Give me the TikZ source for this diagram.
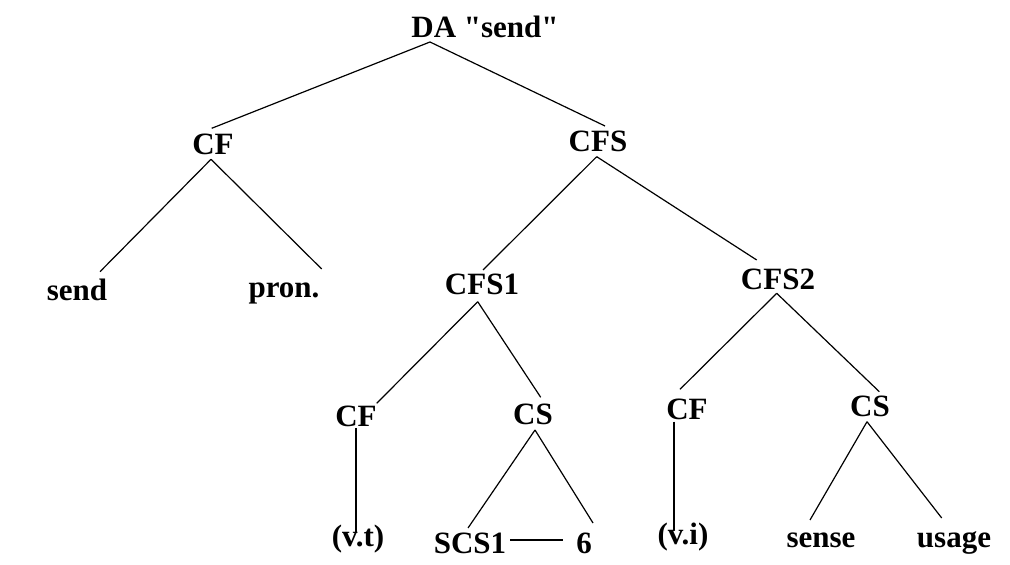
\documentclass[tikz,border=0pt]{standalone}
\usepackage{fontspec}
\setmainfont{Liberation Serif}[Ligatures=TeXOff]
\usetikzlibrary{calc}
\begin{document}
\begin{tikzpicture}[x=0.5pt,y=-0.5pt,
  lbl/.style={inner sep=0pt,anchor=base,font=\bfseries\fontsize{15.5}{18}\selectfont},
  branch/.style={draw=black,line width=0.6pt}]
\useasboundingbox (0,0) rectangle (1010,565);

% labels, placed on their baselines
\node[lbl] (da)    at (485,38)  {DA "send"};
\node[lbl] (cfa)   at (213,155) {CF};
\node[lbl] (cfs)   at (598,152) {CFS};
\node[lbl] (send)  at (77,301)  {send};
\node[lbl] (pron)  at (284,298) {pron.};
\node[lbl] (cfs1)  at (482,295) {CFS1};
\node[lbl] (cfs2)  at (778,290) {CFS2};
\node[lbl] (cfb)   at (356,427) {CF};
\node[lbl] (csb)   at (533,425) {CS};
\node[lbl] (cfr)   at (687,420) {CF};
\node[lbl] (csr)   at (870,417) {CS};
\node[lbl] (vt)    at (358,546) {(v.t)};
\node[lbl] (scs1)  at (470,553) {SCS1};
\node[lbl] (six)   at (584,553) {6};
\node[lbl] (vi)    at (683,545) {(v.i)};
\node[lbl] (sense) at (821,547) {sense};
\node[lbl] (usage) at (954,547) {usage};

% attachment points of the branches
\coordinate (da-dn)   at ($(da.base)+(-55,4)$);
\coordinate (cfa-up)  at ($(cfa.base)+(-1.3,-26.7)$);
\coordinate (cfa-dn)  at ($(cfa.base)+(-2,4.3)$);
\coordinate (cfs-up)  at ($(cfs.base)+(7,-26)$);
\coordinate (cfs-dn)  at ($(cfs.base)+(-1.3,4.7)$);
\coordinate (send-up) at ($(send.base)+(23,-29.3)$);
\coordinate (pron-up) at ($(pron.base)+(37.7,-29)$);
\coordinate (cfs1-up) at ($(cfs1.base)+(1,-25)$);
\coordinate (cfs1-dn) at ($(cfs1.base)+(-4.3,6.7)$);
\coordinate (cfs2-up) at ($(cfs2.base)+(-21.3,-30)$);
\coordinate (cfs2-dn) at ($(cfs2.base)+(-1.3,3.3)$);
\coordinate (cfb-up)  at ($(cfb.base)+(20.7,-23.7)$);
\coordinate (cfb-dn)  at ($(cfb.base)+(0,1)$);
\coordinate (csb-up)  at ($(csb.base)+(7.7,-27.7)$);
\coordinate (csb-dn)  at ($(csb.base)+(2,5)$);
\coordinate (cfr-up)  at ($(cfr.base)+(-7,-30.7)$);
\coordinate (cfr-dn)  at ($(cfr.base)+(-13,1.7)$);
\coordinate (csr-up)  at ($(csr.base)+(9.3,-25.3)$);
\coordinate (csr-dn)  at ($(csr.base)+(-3,4.7)$);
\coordinate (vt-up)   at ($(vt.base)+(-2,-13)$);
\coordinate (scs1-up) at ($(scs1.base)+(-2,-25)$);
\coordinate (scs1-r)  at ($(scs1.base)+(40,-13)$);
\coordinate (six-up)  at ($(six.base)+(9,-30)$);
\coordinate (six-l)   at ($(six.base)+(-21,-13)$);
\coordinate (vi-up)   at ($(vi.base)+(-9,-15)$);
\coordinate (sense-up) at ($(sense.base)+(-11,-27)$);
\coordinate (usage-up) at ($(usage.base)+(-12.3,-29)$);

% branches
\draw[branch] (da-dn) -- (cfa-up);
\draw[branch] (da-dn) -- (cfs-up);
\draw[branch] (cfa-dn) -- (send-up);
\draw[branch] (cfa-dn) -- (pron-up);
\draw[branch] (cfs-dn) -- (cfs1-up);
\draw[branch] (cfs-dn) -- (cfs2-up);
\draw[branch] (cfs1-dn) -- (cfb-up);
\draw[branch] (cfs1-dn) -- (csb-up);
\draw[branch] (cfs2-dn) -- (cfr-up);
\draw[branch] (cfs2-dn) -- (csr-up);
\draw[branch] (cfb-dn) -- (vt-up);
\draw[branch] (csb-dn) -- (scs1-up);
\draw[branch] (csb-dn) -- (six-up);
\draw[branch] (scs1-r) -- (six-l);
\draw[branch] (cfr-dn) -- (vi-up);
\draw[branch] (csr-dn) -- (sense-up);
\draw[branch] (csr-dn) -- (usage-up);
\end{tikzpicture}
\end{document}
